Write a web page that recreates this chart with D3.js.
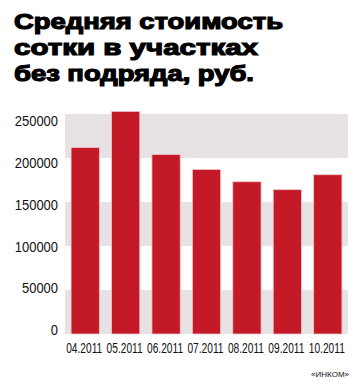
<!DOCTYPE html>
<html>
  <head>
    <meta charset="UTF-8">
    <title>Средняя стоимость сотки</title>
  </head>
  <style type="text/css">
    body { margin: 0; background: #fff; }
    .title { font: bold 22px "Liberation Sans", Arial, sans-serif; fill: #000; stroke: #000; stroke-width: 1.2px; }
    .tick text { font: 14px "Liberation Sans", Arial, sans-serif; fill: #111; }
    .src { font: 8px "Liberation Sans", Arial, sans-serif; fill: #111; }
  </style>
  <body>
    <svg width="363" height="389"></svg>
  </body>
  <script src="https://d3js.org/d3.v7.min.js"></script>
  <script type="text/javascript">
    const months = ['04.2011', '05.2011', '06.2011', '07.2011', '08.2011', '09.2011', '10.2011'];
    const prices = [212000, 253000, 204000, 187000, 173000, 164000, 181000];
    const yTicks = [0, 50000, 100000, 150000, 200000, 250000];
    const titleLines = ['Средняя стоимость', 'сотки в участках', 'без подряда, руб.'];

    const svg = d3.select('svg');

    const x = d3.scaleBand()
      .domain(months)
      .range([65, 348])
      .paddingInner(0.3)
      .paddingOuter(0.15);

    const y = d3.scaleLinear()
      .domain([0, 250000])
      .range([334, 114]);

    // labels in the original sit a bit off the gridlines
    const yLab = d3.scaleLinear()
      .domain([0, 250000])
      .range([330, 121.5]);

    // title
    const lens = [269, 244, 240];
    svg.selectAll('.title')
      .data(titleLines)
      .enter().append('text')
        .attr('class', 'title')
        .attr('x', 14)
        .attr('y', (d, i) => 29 + i * 26)
        .attr('textLength', (d, i) => lens[i])
        .attr('lengthAdjust', 'spacingAndGlyphs')
        .text(d => d);

    // grey bands
    const bands = [[0, 50000], [100000, 150000], [200000, 250000]];
    svg.append('g').selectAll('rect')
      .data(bands)
      .enter().append('rect')
        .attr('x', 65)
        .attr('width', 283)
        .attr('y', d => y(d[1]))
        .attr('height', d => y(d[0]) - y(d[1]))
        .attr('fill', '#e7e2e3');

    // bars
    svg.append('g').selectAll('rect')
      .data(prices)
      .enter().append('rect')
        .attr('x', (d, i) => x(months[i]))
        .attr('width', x.bandwidth())
        .attr('y', d => y(d))
        .attr('height', d => y(0) - y(d))
        .attr('fill', '#c41a27')
        .attr('stroke', '#f1c9cc')
        .attr('stroke-width', 0.8);

    // y axis
    const ya = svg.append('g')
      .attr('transform', 'translate(58,0)')
      .call(d3.axisLeft(yLab).tickValues(yTicks).tickFormat(d3.format('d')).tickSize(0).tickPadding(0));
    ya.select('.domain').remove();
    ya.selectAll('text').attr('textLength', d => String(d).length * 7.2).attr('lengthAdjust', 'spacingAndGlyphs');

    // x axis, narrow digits like the original
    const xa = svg.append('g')
      .attr('transform', 'translate(-1,334)')
      .call(d3.axisBottom(x).tickSize(0).tickPadding(8));
    xa.select('.domain').remove();
    xa.selectAll('text')
      .style('font-size', '15px')
      .attr('transform', 'scale(0.68,1)');

    svg.append('text')
      .attr('class', 'src')
      .attr('x', 349)
      .attr('y', 377)
      .attr('text-anchor', 'end')
      .text('«ИНКОМ»');
  </script>
</html>
